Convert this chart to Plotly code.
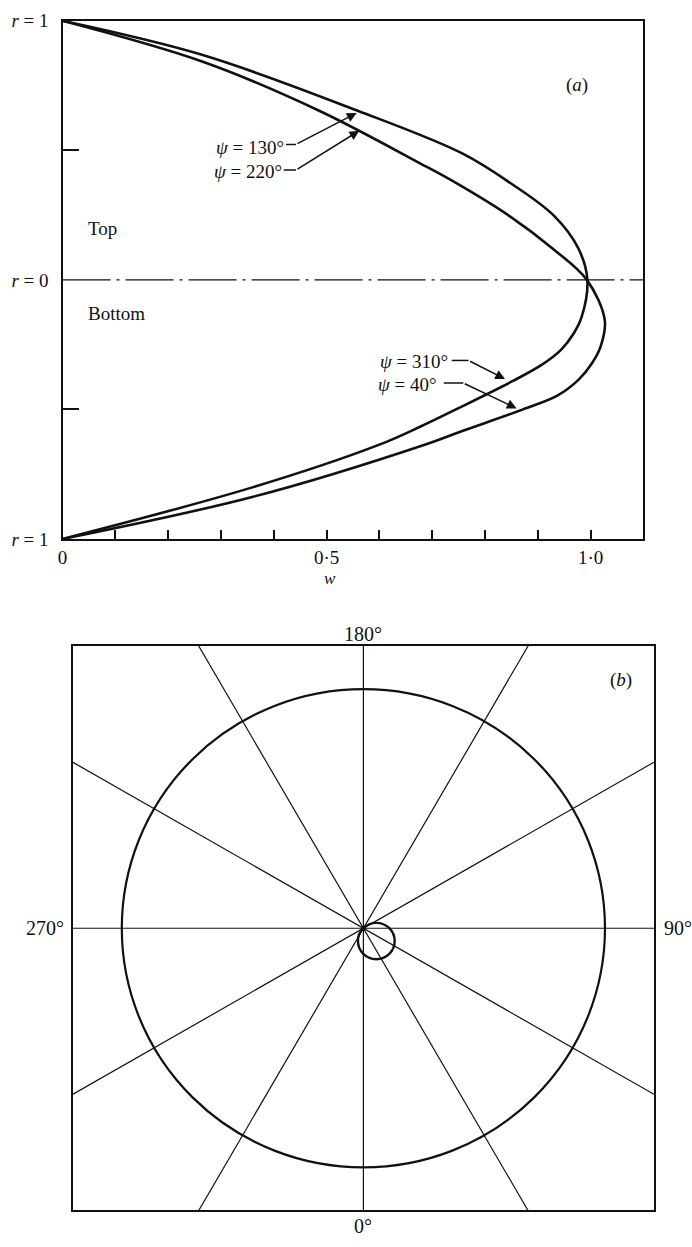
import math
import plotly.graph_objects as go

# ---------- panel (a): axial velocity profiles w(r) ----------
# signed radius: + is the "Top" half, - is the "Bottom" half
R_130_310 = [1.00, 0.867, 0.652, 0.489, 0.374, 0.247, 0.121, 0.00, -0.144,
             -0.207, -0.27, -0.327, -0.39, -0.497, -0.567, -0.636, -0.80, -1.00]
W_130_310 = [0.00, 0.267, 0.560, 0.756, 0.848, 0.931, 0.977, 0.994, 0.983,
             0.968, 0.944, 0.908, 0.853, 0.748, 0.677, 0.600, 0.361, 0.00]

R_220_40 = [1.00, 0.841, 0.652, 0.45, 0.379, 0.247, 0.121, 0.00, -0.157,
            -0.258, -0.321, -0.384, -0.447, -0.50, -0.587, -0.636, -0.837, -1.00]
W_220_40 = [0.00, 0.267, 0.487, 0.677, 0.741, 0.846, 0.928, 0.993, 1.027,
            1.019, 1.003, 0.978, 0.937, 0.872, 0.752, 0.686, 0.361, 0.00]

W_TICKS = [0.0, 0.5, 1.0]
W_TICK_TEXT = ["0", "0·5", "1·0"]
R_TICKS = [-1.0, 0.0, 1.0]
R_TICK_TEXT = ["<i>r</i> = 1", "<i>r</i> = 0", "<i>r</i> = 1"]
R_MINOR = [-0.5, 0.5]

# curve labels: text, text anchor (w, r), leader (w0, w1, r), arrow tip (w, r)
PSI_LABELS = [
    ("<i>ψ</i> = 130°", 0.423, 0.511, 0.423, 0.442, 0.523, 0.557, 0.644),
    ("<i>ψ</i> = 220°", 0.419, 0.417, 0.419, 0.442, 0.424, 0.562, 0.576),
    ("<i>ψ</i> = 310°", 0.733, -0.314, 0.737, 0.769, -0.311, 0.838, -0.383),
    ("<i>ψ</i> = 40°", 0.712, -0.402, 0.722, 0.759, -0.398, 0.860, -0.496),
]

# ---------- panel (b): polar diagram ----------
SPOKE_PSI = [0, 30, 60, 90, 120, 150]          # each drawn as a full diameter
BIG_CIRCLE_R = 1.0
LOOP_CENTER = (0.0535, -0.0535)
LOOP_R = 0.076
PSI_MARKS = ["0°", "90°", "180°", "270°"]

FONT = "Liberation Serif, Times New Roman, serif"
BLACK = "#111111"
W, H = 692, 1247


def px(x):
    """figure x pixel -> paper fraction"""
    return x / W


def py(y):
    """figure y pixel (from the top) -> paper fraction"""
    return 1 - y / H


fig = go.Figure()

for r_vals, w_vals in ((R_130_310, W_130_310), (R_220_40, W_220_40)):
    fig.add_trace(go.Scatter(
        x=w_vals, y=r_vals, mode="lines",
        line=dict(color=BLACK, width=2.6, shape="spline", smoothing=1.0),
        xaxis="x", yaxis="y", showlegend=False, hoverinfo="skip"))

# centre line r = 0
fig.add_shape(type="line", xref="x", yref="y", x0=0, x1=1.1, y0=0, y1=0,
              line=dict(color=BLACK, width=1.4, dash="48px,6px,3px,6px"))

annotations = []
for text, tx, ty, l0, l1, ly, tipx, tipy in PSI_LABELS:
    annotations.append(dict(x=tx, y=ty, xref="x", yref="y", text=text, showarrow=False,
                            xanchor="right", yanchor="middle",
                            font=dict(family=FONT, size=19, color=BLACK)))
    fig.add_trace(go.Scatter(x=[l0, l1], y=[ly, ly], mode="lines",
                             line=dict(color=BLACK, width=1.5),
                             xaxis="x", yaxis="y", showlegend=False, hoverinfo="skip"))
    annotations.append(dict(x=tipx, y=tipy, xref="x", yref="y", ax=l1, ay=ly,
                            axref="x", ayref="y", text="", showarrow=True,
                            arrowhead=2, arrowsize=1.3, arrowwidth=1.5,
                            arrowcolor=BLACK, standoff=0, startstandoff=0))

annotations += [
    dict(x=0.045, y=0.197, xref="x", yref="y", text="Top", showarrow=False,
         xanchor="left", yanchor="middle", font=dict(family=FONT, size=19, color=BLACK)),
    dict(x=0.045, y=-0.129, xref="x", yref="y", text="Bottom", showarrow=False,
         xanchor="left", yanchor="middle", font=dict(family=FONT, size=19, color=BLACK)),
    dict(x=0.974, y=0.754, xref="x", yref="y", text="(<i>a</i>)", showarrow=False,
         xanchor="center", yanchor="middle", font=dict(family=FONT, size=19, color=BLACK)),
    dict(x=px(327), y=py(578), xref="paper", yref="paper", text="<i>w</i>",
         xanchor="center", yanchor="middle", showarrow=False,
         font=dict(family=FONT, size=17, color=BLACK)),
]

# panel (b) spokes
L = 3.0
for psi in SPOKE_PSI:
    a = math.radians(psi)
    fig.add_trace(go.Scatter(
        x=[-L * math.sin(a), L * math.sin(a)], y=[L * math.cos(a), -L * math.cos(a)],
        mode="lines", line=dict(color=BLACK, width=1.2),
        xaxis="x2", yaxis="y2", showlegend=False, hoverinfo="skip"))

fig.add_shape(type="circle", xref="x2", yref="y2",
              x0=-BIG_CIRCLE_R, x1=BIG_CIRCLE_R, y0=-BIG_CIRCLE_R, y1=BIG_CIRCLE_R,
              line=dict(color=BLACK, width=2.2))
fig.add_shape(type="circle", xref="x2", yref="y2",
              x0=LOOP_CENTER[0] - LOOP_R, x1=LOOP_CENTER[0] + LOOP_R,
              y0=LOOP_CENTER[1] - LOOP_R, y1=LOOP_CENTER[1] + LOOP_R,
              line=dict(color=BLACK, width=2.4))
fig.add_trace(go.Scatter(x=[0], y=[0], mode="markers", marker=dict(color=BLACK, size=5),
                         xaxis="x2", yaxis="y2", showlegend=False, hoverinfo="skip"))

mark_font = dict(family=FONT, size=20, color=BLACK)
annotations += [
    dict(x=px(361), y=py(1237), xref="paper", yref="paper", text=PSI_MARKS[0],
         xanchor="center", yanchor="middle", showarrow=False, font=mark_font),
    dict(x=px(662), y=py(934), xref="paper", yref="paper", text=PSI_MARKS[1],
         xanchor="left", yanchor="middle", showarrow=False, font=mark_font),
    dict(x=px(361), y=py(635), xref="paper", yref="paper", text=PSI_MARKS[2],
         xanchor="center", yanchor="middle", showarrow=False, font=mark_font),
    dict(x=px(61), y=py(934), xref="paper", yref="paper", text=PSI_MARKS[3],
         xanchor="right", yanchor="middle", showarrow=False, font=mark_font),
    dict(x=1.066, y=1.037, xref="x2", yref="y2", text="(<i>b</i>)", showarrow=False,
         xanchor="center", yanchor="middle", font=dict(family=FONT, size=19, color=BLACK)),
]

frame = dict(showline=True, mirror=True, linecolor=BLACK, linewidth=2.4,
             showgrid=False, zeroline=False)

fig.update_layout(
    width=W, height=H,
    margin=dict(l=0, r=0, t=0, b=0),
    paper_bgcolor="white", plot_bgcolor="white",
    showlegend=False,
    font=dict(family=FONT, size=19, color=BLACK),
    xaxis=dict(domain=[px(58), px(643)], range=[0, 1.1], anchor="y",
               tickmode="array", tickvals=W_TICKS, ticktext=W_TICK_TEXT,
               ticks="inside", ticklen=9, tickwidth=2.4, tickcolor=BLACK,
               minor=dict(tickmode="linear", tick0=0, dtick=0.1, ticks="inside",
                          ticklen=9, tickwidth=2.4, tickcolor=BLACK),
               tickfont=dict(family=FONT, size=19, color=BLACK), **frame),
    yaxis=dict(domain=[py(538), py(11)], range=[-1, 1], anchor="x",
               tickmode="array", tickvals=R_TICKS, ticktext=R_TICK_TEXT, ticks="",
               ticklabelstandoff=8,
               minor=dict(tickmode="array", tickvals=R_MINOR, ticks="inside",
                          ticklen=16, tickwidth=2.4, tickcolor=BLACK),
               tickfont=dict(family=FONT, size=19, color=BLACK), **frame),
    xaxis2=dict(domain=[px(68), px(654)], range=[-1.204, 1.204], anchor="y2",
                showticklabels=False, ticks="", **frame),
    yaxis2=dict(domain=[py(1221), py(647)], range=[-1.18, 1.18], anchor="x2",
                showticklabels=False, ticks="", **frame),
    annotations=annotations,
)

fig.write_html("out.html")
